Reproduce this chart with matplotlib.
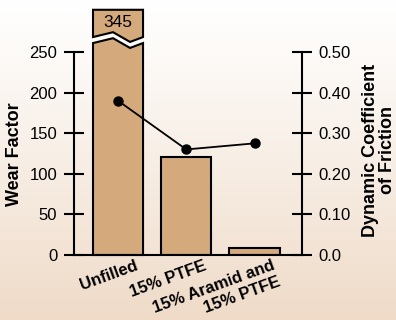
import numpy as np
import matplotlib
matplotlib.use('Agg')
import matplotlib.pyplot as plt
from matplotlib.patches import Polygon

plt.rcParams['font.family'] = ['Liberation Sans', 'DejaVu Sans']

# data
materials = ['Unfilled', '15% PTFE', '15% Aramid and\n15% PTFE']
wear = [345, 121, 9]
friction = [0.38, 0.26, 0.275]
wear_ticks = [0, 50, 100, 150, 200, 250]
fric_ticks = [0.0, 0.10, 0.20, 0.30, 0.40, 0.50]
fric_labels = ['0.0', '0.10', '0.20', '0.30', '0.40', '0.50']

bar_col = '#d4aa7d'
lw = 1.5
break_at = 261   # where a too-tall bar gets cut
box_top = 302

fig = plt.figure(figsize=(3.96, 3.2), dpi=100)

# background gradient
bg = fig.add_axes([0, 0, 1, 1], zorder=-10)
t = np.linspace(0, 1, 256)[:, None]
top = np.array([1.0, 1.0, 1.0])
bot = np.array([239, 219, 200]) / 255
grad = top + (bot - top) * (t ** 1.1)[:, :, None]
bg.imshow(grad, aspect='auto', extent=[0, 1, 0, 1])
bg.axis('off')

ax = fig.add_axes([74 / 396, 1 - 255 / 320, (302 - 74) / 396, (255 - 52) / 320])
ax.patch.set_alpha(0)
x = np.arange(len(materials))
w = 0.733

for i, v in enumerate(wear):
    if v <= wear_ticks[-1]:
        ax.bar(i, v, width=w, color=bar_col, edgecolor='black', linewidth=lw, zorder=2)
    else:
        x0, x1 = i - w / 2, i + w / 2
        xa, xb = i - w / 2 + 0.4 * w, i - w / 2 + 0.74 * w
        d = 6
        lower = [(x0, 0), (x0, break_at), (xa, break_at + d), (xb, break_at - d),
                 (x1, break_at), (x1, 0)]
        g = 7.4
        upper = [(x0, break_at + g), (xa, break_at + g + d), (xb, break_at + g - d),
                 (x1, break_at + g), (x1, box_top), (x0, box_top)]
        for pts in (lower, upper):
            ax.add_patch(Polygon(pts, closed=True, facecolor=bar_col, edgecolor='black',
                                 linewidth=lw, clip_on=False, zorder=2, joinstyle='miter'))
        ax.text(i, (break_at + g + box_top) / 2 + 1.5, str(v), ha='center', va='center',
                fontsize=12.5, clip_on=False, zorder=3)

ax.set_xlim(-0.645, 2.696)
ax.set_ylim(0, 250)
ax.set_yticks(wear_ticks)
ax.set_xticks([])
for s in ['top', 'right']:
    ax.spines[s].set_visible(False)
for s in ['left', 'bottom']:
    ax.spines[s].set_linewidth(lw)
ax.tick_params(axis='y', direction='inout', length=15, width=lw, pad=4.5, labelsize=12)

ax2 = ax.twinx()
ax2.plot(x, friction, color='black', linewidth=1.3, marker='o', markersize=6.5, zorder=5)
ax2.set_ylim(0, 0.5)
ax2.set_yticks(fric_ticks)
ax2.set_yticklabels(fric_labels)
for s in ['top', 'left', 'bottom']:
    ax2.spines[s].set_visible(False)
ax2.spines['right'].set_linewidth(lw)
ax2.tick_params(axis='y', direction='inout', length=15, width=lw, pad=4.5, labelsize=12)

# rotated category labels, one text per line, right-aligned
rot = 20
ca, sa = np.cos(np.radians(rot)), np.sin(np.radians(rot))
line_h = 12.3
for i, lab in enumerate(materials):
    for k, line in enumerate(lab.split('\n')):
        p = k * line_h
        ax.annotate(line, xy=(i, 0), xycoords='data', xytext=(12 + p * sa, -2 - p * ca),
                    textcoords='offset points', ha='right', va='top', rotation=rot,
                    rotation_mode='anchor', fontsize=12, fontweight='bold',
                    annotation_clip=False)

fig.text(15 / 396, 1 - 154.5 / 320, 'Wear Factor', rotation=90, ha='center', va='center',
         fontsize=13, fontweight='bold')
fig.text(379 / 396, 1 - 150 / 320, 'Dynamic Coefficient\nof Friction', rotation=90,
         ha='center', va='center', multialignment='center', fontsize=13,
         fontweight='bold', linespacing=0.95)

fig.savefig('out.png', dpi=100)
